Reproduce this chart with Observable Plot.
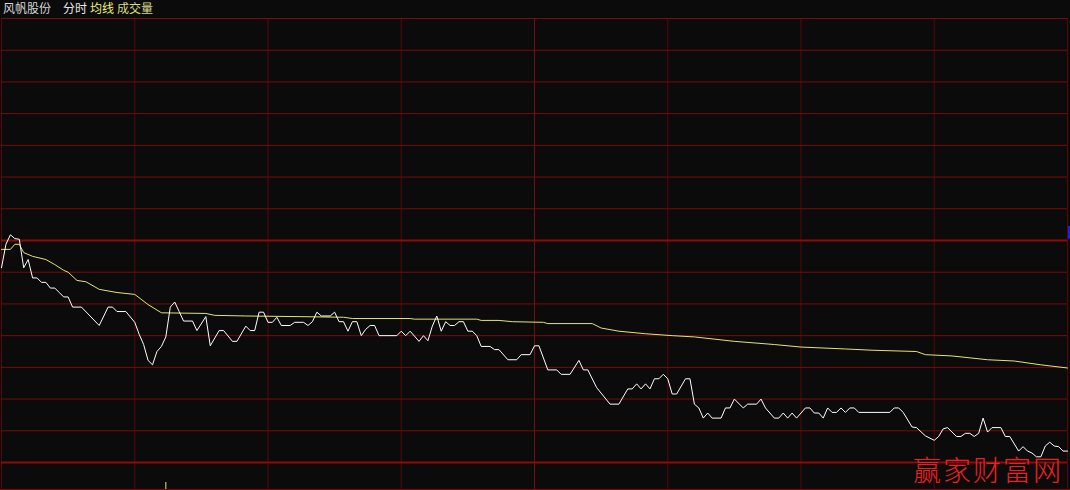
<!DOCTYPE html>
<html><head><meta charset="utf-8">
<script src="https://cdn.jsdelivr.net/npm/d3@7"></script>
<script src="https://cdn.jsdelivr.net/npm/@observablehq/plot@0.6"></script>
<style>
html,body{margin:0;padding:0;background:#0b0b0b;}
#wrap{position:relative;width:1070px;height:490px;overflow:hidden;background:#0b0b0b;}
#title{height:17px;font-family:"Noto Sans CJK SC",sans-serif;font-size:12px;line-height:15px;padding-left:3px;white-space:nowrap;box-sizing:border-box;}
#chart{height:472px;border-bottom:1px solid #7a0a0a;}
#chart svg{display:block;}
#wm{position:absolute;left:913px;top:453px;font-family:"Noto Sans CJK SC",sans-serif;font-weight:300;font-size:28px;line-height:32px;letter-spacing:2px;color:#ec2020;white-space:nowrap;}
</style></head>
<body>
<div id="wrap">
  <div id="title"></div>
  <div id="chart"></div>
  <div id="wm"></div>
</div>
<script>
// ---- data ----
const titleParts = ["风帆股份", "分时", "均线", "成交量"];
const watermark = "赢家财富网";

// minute of session (0..240), % change vs previous close
const priceSeries = [
 [0,-0.43],[1,-0.06],[2,0.09],[3,0.03],[4,0.02],[5,-0.43],[6,-0.30],[7,-0.59],[8,-0.59],[9,-0.66],
 [10,-0.66],[11,-0.75],[12,-0.75],[13,-0.82],[14,-0.89],[15,-0.89],[16,-1.05],[18,-1.05],[22,-1.34],[24,-1.05],
 [25,-1.05],[26,-1.12],[28,-1.12],[30,-1.29],[31,-1.48],[32,-1.64],[33,-1.89],[34,-1.96],[35,-1.75],[36,-1.67],
 [37,-1.52],[38,-1.05],[39,-0.97],[40,-1.12],[41,-1.27],[43,-1.27],[44,-1.42],[46,-1.20],[47,-1.66],[49,-1.42],
 [50,-1.42],[52,-1.59],[53,-1.59],[55,-1.35],[56,-1.42],[57,-1.42],[58,-1.13],[59,-1.13],[60,-1.29],[61,-1.29],
 [62,-1.21],[63,-1.34],[65,-1.34],[66,-1.29],[68,-1.29],[69,-1.34],[70,-1.28],[71,-1.13],[72,-1.19],[74,-1.19],
 [75,-1.13],[76,-1.28],[77,-1.28],[78,-1.43],[79,-1.28],[80,-1.28],[81,-1.50],[82,-1.40],[83,-1.34],[84,-1.34],
 [85,-1.50],[89,-1.50],[90,-1.43],[91,-1.50],[92,-1.43],[94,-1.59],[95,-1.50],[96,-1.58],[97,-1.35],[98,-1.19],
 [99,-1.43],[100,-1.28],[101,-1.34],[102,-1.34],[103,-1.28],[104,-1.28],[105,-1.43],[106,-1.43],[107,-1.50],[108,-1.67],
 [110,-1.67],[111,-1.72],[112,-1.72],[114,-1.88],[116,-1.88],[117,-1.80],[119,-1.80],[120,-1.66],[121,-1.66],[123,-2.04],
 [125,-2.04],[126,-2.11],[128,-2.11],[130,-1.89],[131,-2.04],[132,-2.04],[134,-2.32],[137,-2.58],[139,-2.58],[141,-2.34],
 [142,-2.34],[143,-2.26],[144,-2.34],[145,-2.26],[146,-2.34],[147,-2.18],[148,-2.18],[149,-2.11],[150,-2.18],[151,-2.42],
 [152,-2.42],[154,-2.18],[155,-2.18],[156,-2.58],[157,-2.64],[158,-2.80],[159,-2.72],[160,-2.80],[162,-2.80],[163,-2.64],
 [164,-2.64],[165,-2.50],[167,-2.64],[168,-2.58],[170,-2.58],[171,-2.50],[172,-2.64],[174,-2.80],[175,-2.80],[176,-2.72],
 [177,-2.80],[178,-2.72],[179,-2.80],[181,-2.64],[182,-2.64],[183,-2.72],[184,-2.72],[185,-2.80],[186,-2.64],[187,-2.71],
 [188,-2.71],[189,-2.64],[190,-2.71],[191,-2.64],[192,-2.64],[193,-2.71],[200,-2.71],[201,-2.64],[202,-2.64],[203,-2.71],
 [205,-2.94],[206,-2.95],[208,-3.08],[210,-3.15],[211,-3.09],[212,-2.97],[213,-2.95],[215,-3.09],[216,-3.09],[217,-3.04],
 [218,-3.04],[219,-3.09],[220,-3.04],[221,-2.80],[222,-3.02],[223,-2.95],[225,-2.95],[226,-3.09],[227,-3.09],[229,-3.32],
 [230,-3.25],[231,-3.32],[232,-3.35],[233,-3.41],[234,-3.41],[235,-3.24],[236,-3.18],[237,-3.24],[238,-3.25],[239,-3.32],
 [240,-3.32]
];

const avgSeries = [
 [0,-0.14],[2,-0.14],[3,-0.06],[4,-0.06],[5,-0.19],[7,-0.25],[10,-0.30],[12,-0.38],[14,-0.47],[15,-0.50],
 [17,-0.63],[19,-0.65],[22,-0.77],[26,-0.82],[30,-0.85],[33,-1.01],[36,-1.14],[46,-1.15],[48,-1.18],[55,-1.19],
 [67,-1.20],[77,-1.21],[79,-1.23],[92,-1.23],[93,-1.24],[107,-1.24],[108,-1.26],[112,-1.26],[115,-1.28],[122,-1.29],
 [123,-1.31],[133,-1.31],[135,-1.38],[139,-1.43],[145,-1.47],[151,-1.50],[156,-1.52],[165,-1.59],[174,-1.64],[180,-1.68],
 [190,-1.71],[196,-1.73],[206,-1.75],[208,-1.80],[214,-1.82],[222,-1.88],[228,-1.90],[234,-1.96],[240,-2.01]
];

// current-price marker on the right edge: [minute, low, high]
const markerSeries = [[240, 0.02, 0.22]];
// the one volume bar whose top shows at the bottom edge (minute)
const volumeBars = [37];

// grid
const gridMinutes = d3.range(0, 241, 30);
const gridChanges = d3.range(-3.5, 3.51, 0.5);

// ---- title ----
const titleColors = ["#d6d6d6", "#e6e6e6", "#f0f07a", "#d8d888"];
const titleMargins = [12, 3, 3, 0];
const t = document.getElementById("title");
titleParts.forEach((s, i) => {
  const sp = document.createElement("span");
  sp.textContent = s;
  sp.style.color = titleColors[i];
  sp.style.marginRight = titleMargins[i] + "px";
  t.appendChild(sp);
});
document.getElementById("wm").textContent = watermark;

// ---- chart ----
const chart = Plot.plot({
  width: 1070,
  height: 472,
  marginTop: 1,
  marginBottom: 27,
  marginLeft: 1,
  marginRight: 3,
  style: {background: "#0b0b0b", overflow: "visible"},
  x: {domain: [0, 240], axis: null},
  y: {domain: [-3.5, 3.5], axis: null},
  marks: [
    Plot.ruleX(gridMinutes.filter(m => m !== 120), {stroke: "#560808", strokeWidth: 1, insetBottom: -27}),
    Plot.ruleX([120], {stroke: "#7a0c0c", strokeWidth: 1, insetBottom: -27}),
    Plot.ruleY(gridChanges.filter(v => v !== 0 && v !== -3.5), {stroke: "#7c0a0a", strokeWidth: 1}),
    Plot.ruleY([0, -3.5], {stroke: "#8c0c0c", strokeWidth: 2}),
    Plot.ruleX(volumeBars, {stroke: "#e4e474", strokeWidth: 1, insetTop: 464, insetBottom: -27}),
    Plot.line(avgSeries, {x: d => d[0], y: d => d[1], stroke: "#e4e474", strokeWidth: 1}),
    Plot.line(priceSeries, {x: d => d[0], y: d => d[1], stroke: "#ffffff", strokeWidth: 1}),
    Plot.ruleX(markerSeries, {x: d => d[0], y1: d => d[1], y2: d => d[2], stroke: "#1c1cff", strokeWidth: 3, dx: 2})
  ]
});
document.getElementById("chart").appendChild(chart);
</script>
</body></html>
